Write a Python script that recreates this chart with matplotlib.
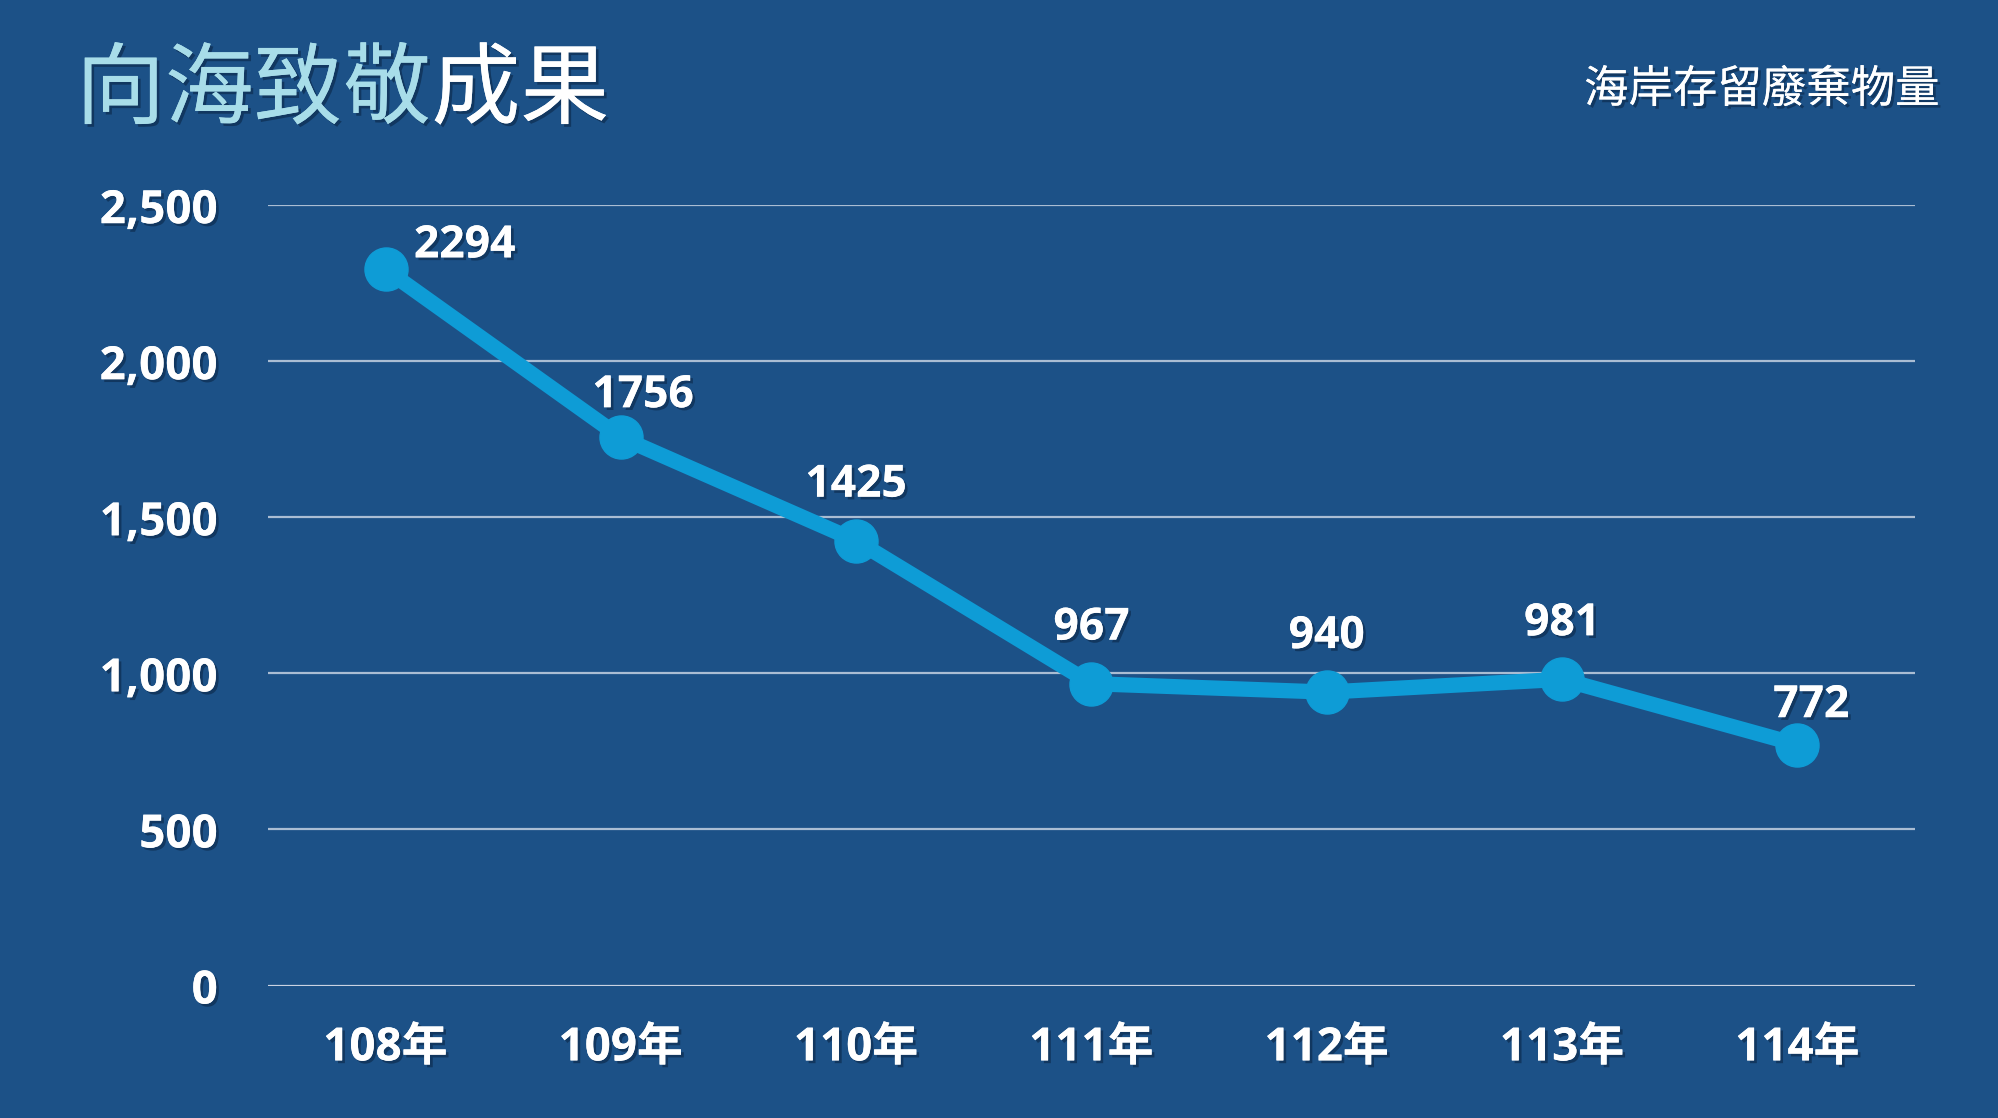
import matplotlib
matplotlib.use("Agg")
import matplotlib.pyplot as plt
import matplotlib.patheffects as pe

years = ["108年", "109年", "110年", "111年", "112年", "113年", "114年"]
amounts = [2294, 1756, 1425, 967, 940, 981, 772]
y_ticks = [0, 500, 1000, 1500, 2000, 2500]
y_tick_labels = ["0", "500", "1,000", "1,500", "2,000", "2,500"]

bg = "#1c5187"
line_col = "#0e9cd6"
grid_col = "#aabdd3"
cjk = ["Noto Sans CJK TC", "DejaVu Sans"]
num_font = ["Open Sans", "Noto Sans CJK TC", "DejaVu Sans"]

shadow = [pe.withSimplePatchShadow(offset=(2, -2), shadow_rgbFace="#0b2747", alpha=0.6), pe.Normal()]

fig = plt.figure(figsize=(19.99, 11.18), dpi=100)
fig.patch.set_facecolor(bg)
ax = fig.add_axes([0.134, 0.1185, 0.824, 0.698])
ax.set_facecolor(bg)

x = list(range(len(years)))
ax.plot(x, amounts, color=line_col, linewidth=11, marker="o", markersize=31,
        solid_capstyle="round", solid_joinstyle="round", clip_on=False, zorder=3)

ax.set_xlim(-0.5, len(years) - 0.5)
ax.set_ylim(0, 2500)
ax.set_yticks(y_ticks)
ax.set_yticklabels(y_tick_labels)
ax.set_xticks(x)
ax.set_xticklabels(years)
for s in ax.spines.values():
    s.set_visible(False)
ax.tick_params(length=0)
ax.tick_params(axis="y", pad=36)
ax.tick_params(axis="x", pad=28)
for lbl in ax.get_yticklabels() + ax.get_xticklabels():
    lbl.set_fontfamily(num_font)
    lbl.set_fontweight("bold")
    lbl.set_fontsize(33)
    lbl.set_color("white")
    lbl.set_path_effects(shadow)

for v in y_ticks:
    ax.axhline(v, color=grid_col if v else "#c9d2e2", linewidth=1.6, zorder=1)

# label offsets (points) so text does not sit on the line
offsets = [(57, 17), (16, 30), (0, 40), (0, 40), (0, 40), (0, 40), (10, 28)]
for xi, v, off in zip(x, amounts, offsets):
    ax.annotate(str(v), (xi, v), xytext=off, textcoords="offset points",
                ha="center", va="center", fontsize=32, fontweight="bold",
                family=num_font, color="white", path_effects=shadow, zorder=4)

# title in two colours
t1 = fig.text(0.038, 0.918, "向海致敬", fontsize=64, family=cjk, fontweight="medium",
              color="#a8dde9", ha="left", va="center", path_effects=shadow)
renderer = fig.canvas.get_renderer()
bb = t1.get_window_extent(renderer=renderer)
x2 = fig.transFigure.inverted().transform((bb.x1, 0))[0]
fig.text(x2, 0.918, "成果", fontsize=64, family=cjk, fontweight="medium",
         color="white", ha="left", va="center", path_effects=shadow)

fig.text(0.9705, 0.92, "海岸存留廢棄物量", fontsize=32, family=cjk, fontweight="medium",
         color="white", ha="right", va="center", path_effects=shadow)

fig.savefig("out.png", dpi=100, facecolor=bg)
